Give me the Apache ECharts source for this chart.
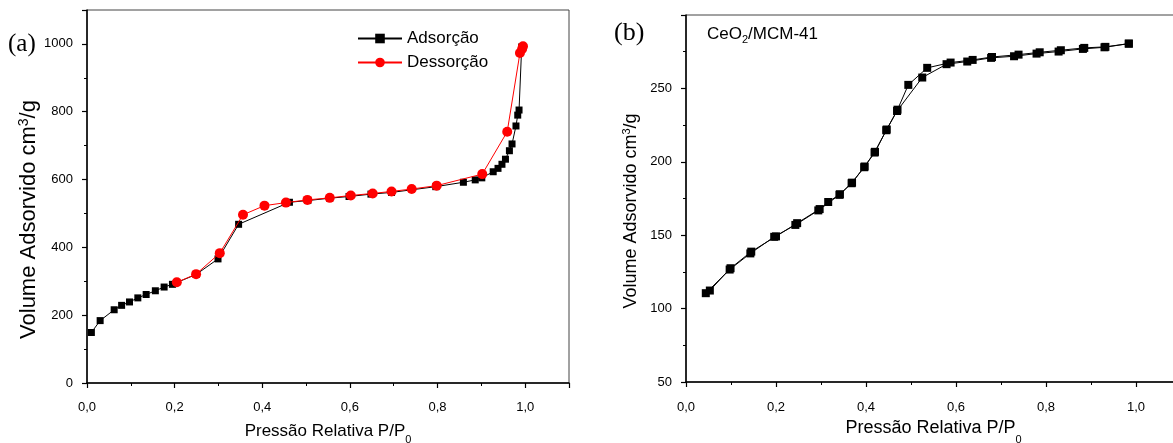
<!DOCTYPE html>
<html>
<head>
<meta charset="utf-8">
<script src="https://cdn.jsdelivr.net/npm/echarts@6/dist/echarts.min.js"></script>
<style>
html,body{margin:0;padding:0;background:#fff;}
#c{width:1173px;height:443px;}
</style>
</head>
<body>
<div id="c"></div>
<script>
// (a) MCM-41 isotherm
const aAdsP = [0.010,0.030,0.062,0.079,0.097,0.116,0.135,0.156,0.176,0.195,0.249,0.299,0.346,0.462,0.504,0.554,0.598,0.648,0.695,0.796,0.859,0.886,0.901,0.927,0.938,0.947,0.955,0.964,0.970,0.979,0.983,0.986,0.992];
const aAdsV = [149,184,216,229,239,251,261,272,283,291,320,366,468,533,538,545,550,557,562,579,592,599,605,623,633,645,660,685,705,758,790,805,991];
const aDesP = [0.995,0.993,0.988,0.959,0.902,0.798,0.741,0.695,0.652,0.602,0.554,0.503,0.454,0.405,0.356,0.303,0.249,0.205];
const aDesV = [993,985,973,741,616,582,572,565,559,553,546,540,532,523,496,383,321,297];
// (b) CeO2/MCM-41 isotherm
const bAdsP = [0.044,0.097,0.143,0.196,0.243,0.294,0.341,0.368,0.396,0.419,0.445,0.469,0.525,0.579,0.625,0.678,0.729,0.779,0.828,0.882,0.930,0.984];
const bAdsV = [110.5,126.6,137.6,148.9,157.0,166.9,177.5,185.4,196.3,206.3,221.5,234.6,257.4,266.5,268.3,270.8,271.9,273.7,275.1,276.9,278.0,280.5];
const bDesP = [0.984,0.932,0.885,0.833,0.786,0.739,0.680,0.637,0.588,0.536,0.494,0.470,0.446,0.420,0.397,0.369,0.342,0.316,0.297,0.247,0.200,0.145,0.099,0.053];
const bDesV = [280.5,278.3,277.6,276.0,274.6,273.0,271.4,269.4,267.6,264.0,252.4,235.5,222.0,206.8,196.8,185.8,177.9,172.6,167.8,158.2,149.2,138.8,127.5,112.3];
const seriesNames = ['Adsorção','Dessorção'];
const xTitle = 'Pressão Relativa P/P';
const yTitle = 'Volume Adsorvido cm';

const zip = (xs, ys) => xs.map((x, i) => [x, ys[i]]);
const FONT = 'Liberation Sans, Arial, sans-serif';
const xFmt = v => (Math.abs(v / 0.2 - Math.round(v / 0.2)) < 1e-6 && v <= 1.0001) ? v.toFixed(1).replace('.', ',') : '';

function subRich(fs, lh, pos) {
  return {
    b: {fontSize: fs, fontFamily: FONT, color: '#000', lineHeight: lh, verticalAlign: 'middle'},
    s: {fontSize: Math.round(fs * 0.62), fontFamily: FONT, color: '#000', lineHeight: lh, verticalAlign: pos}
  };
}

function xAxis(gi, fs, lh, gap, lblMargin) {
  return {
    type: 'value', gridIndex: gi, min: 0, max: 1.1, interval: 0.2,
    name: '{b|' + xTitle + '}{s|0}', nameLocation: 'middle', nameGap: gap,
    nameTextStyle: {rich: subRich(fs, lh, 'bottom')},
    axisLine: {show: true, onZero: false, lineStyle: {color: '#000', width: 1.5}},
    axisTick: {show: true, inside: false, length: 5, lineStyle: {color: '#000', width: 1.2}},
    minorTick: {show: true, splitNumber: 2, length: 3, lineStyle: {color: '#000', width: 1}},
    axisLabel: {formatter: xFmt, color: '#000', fontSize: 13, fontFamily: FONT, margin: lblMargin},
    splitLine: {show: false}
  };
}
function yAxis(gi, min, max, interval, fs, gap, pad) {
  return {
    type: 'value', gridIndex: gi, min: min, max: max, interval: interval,
    name: '{b|' + yTitle + '}{s|3}{b|/g}', nameLocation: 'middle', nameGap: gap, nameRotate: 90,
    nameTextStyle: {rich: subRich(fs, fs + 3, 'top'), padding: pad},
    axisLine: {show: true, onZero: false, lineStyle: {color: '#000', width: 1.5}},
    axisTick: {show: true, inside: false, length: 5, lineStyle: {color: '#000', width: 1.2}},
    minorTick: {show: true, splitNumber: 2, length: 3, lineStyle: {color: '#000', width: 1}},
    axisLabel: {formatter: v => (v % interval === 0 && v < max) ? String(v) : '', color: '#000', fontSize: 13, fontFamily: FONT, margin: 14},
    splitLine: {show: false}
  };
}

const chart = echarts.init(document.getElementById('c'), null, {renderer: 'canvas'});
chart.setOption({
  backgroundColor: '#fff',
  animation: false,
  grid: [
    {left: 87, top: 10, width: 482, height: 373, show: true, borderColor: '#444', borderWidth: 1, backgroundColor: 'transparent', outerBoundsMode: 'none', containLabel: false},
    {left: 686, top: 15, width: 495, height: 367, show: true, borderColor: '#444', borderWidth: 1, backgroundColor: 'transparent', outerBoundsMode: 'none', containLabel: false}
  ],
  xAxis: [xAxis(0, 17, 27, 35, 18), xAxis(1, 18, 36, 24, 19)],
  yAxis: [yAxis(0, 0, 1100, 200, 22, 44, [0, 46, 0, 0]), yAxis(1, 50, 300, 50, 18, 44, [0, 25, 0, 0])],
  legend: {
    data: seriesNames, orient: 'vertical', left: 352, top: 25,
    itemWidth: 44, itemHeight: 12, itemGap: 7,
    textStyle: {fontSize: 17, fontFamily: FONT, color: '#000'}
  },
  graphic: [
    {type: 'text', left: 8, top: 32, style: {text: '(a)', fontSize: 25, fontFamily: 'Liberation Serif, Times New Roman, serif', fill: '#000'}},
    {type: 'text', left: 614, top: 20, style: {text: '(b)', fontSize: 26, fontFamily: 'Liberation Serif, Times New Roman, serif', fill: '#000'}},
    {type: 'text', left: 707, top: 26, style: {
      text: '{b|CeO}{s|2}{b|/MCM-41}',
      rich: {
        b: {fontSize: 17, fontFamily: FONT, fill: '#000', lineHeight: 22, verticalAlign: 'middle'},
        s: {fontSize: 11, fontFamily: FONT, fill: '#000', lineHeight: 22, verticalAlign: 'bottom'}
      }
    }}
  ],
  series: [
    {name: seriesNames[0], type: 'line', xAxisIndex: 0, yAxisIndex: 0, data: zip(aAdsP, aAdsV),
     symbol: 'rect', symbolSize: 7, itemStyle: {color: '#000'}, lineStyle: {color: '#000', width: 1}, z: 2},
    {name: seriesNames[1], type: 'line', xAxisIndex: 0, yAxisIndex: 0, data: zip(aDesP, aDesV),
     symbol: 'circle', symbolSize: 10, itemStyle: {color: '#ff0000'}, lineStyle: {color: '#ff0000', width: 1}, z: 3},
    {name: 'b-ads', type: 'line', xAxisIndex: 1, yAxisIndex: 1, data: zip(bAdsP, bAdsV),
     symbol: 'rect', symbolSize: 8, itemStyle: {color: '#000'}, lineStyle: {color: '#000', width: 1}, z: 2},
    {name: 'b-des', type: 'line', xAxisIndex: 1, yAxisIndex: 1, data: zip(bDesP, bDesV),
     symbol: 'rect', symbolSize: 8, itemStyle: {color: '#000'}, lineStyle: {color: '#000', width: 1}, z: 2}
  ]
});
</script>
</body>
</html>
